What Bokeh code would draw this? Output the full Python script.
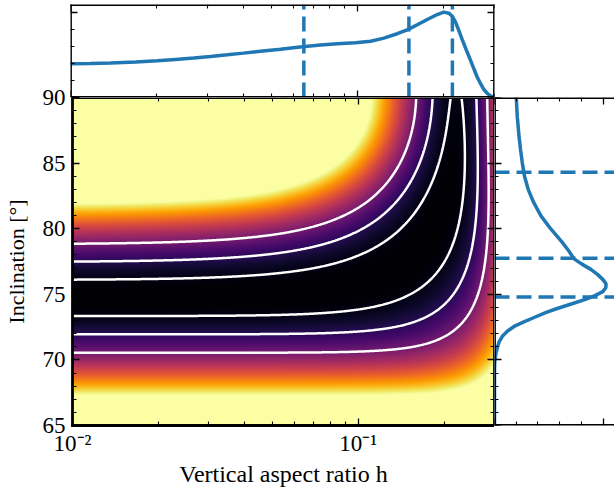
import numpy as np
from bokeh.plotting import figure
from bokeh.models import FixedTicker, Range1d, LinearColorMapper, LinearAxis, LogAxis
from bokeh.layouts import column, row
from bokeh.palettes import Inferno256
from bokeh.embed import file_html
from bokeh.resources import INLINE

# ---------------- values ----------------
h_limits = [0.01, 0.3]
incl_limits = [65.0, 90.0]
h_major_ticks = [0.01, 0.1]
h_minor_ticks = [0.02, 0.03, 0.04, 0.05, 0.06, 0.07, 0.08, 0.09, 0.2, 0.3]
h_tick_labels = ["10\u207b\u00b2", "10\u207b\u00b9"]
incl_major_ticks = [65, 70, 75, 80, 85, 90]
incl_minor_ticks = list(range(65, 91))
incl_tick_labels = ["65", "70", "75", "80", "85", "90"]

# top marginal: distribution of h
top_h = [0.01000, 0.01174, 0.01379, 0.01685, 0.02005, 0.02323, 0.02689, 0.03074,
         0.03516, 0.04006, 0.04592, 0.05391, 0.06418, 0.07431, 0.08498, 0.09841,
         0.1110, 0.1235, 0.1375, 0.1490, 0.1615, 0.1749, 0.1895, 0.1998, 0.2080,
         0.2138, 0.2195, 0.2254, 0.2316, 0.2411, 0.2476, 0.2542, 0.2613, 0.2683,
         0.2755, 0.2831, 0.2907, 0.3000]
top_density = [1.98, 2.00, 2.03, 2.09, 2.16, 2.24, 2.32, 2.41,
               2.51, 2.61, 2.72, 2.84, 2.99, 3.09, 3.16, 3.22,
               3.31, 3.49, 3.75, 3.98, 4.28, 4.59, 4.88, 5.02, 4.96,
               4.78, 4.43, 3.94, 3.41, 2.66, 2.18, 1.69, 1.19, 0.81,
               0.47, 0.24, 0.10, 0.02]
top_density_limits = [0.0, 5.47]
top_ticks_major = [0, 5]
top_ticks_minor = [1, 2, 3, 4]
h_quantiles = [0.065, 0.151, 0.214]

# right marginal: distribution of inclination
right_incl = [90.0, 88.5, 87.0, 86.0, 85.0, 84.0, 83.0, 82.0, 81.0, 80.0, 79.0, 78.3,
              77.7, 77.3, 76.9, 76.5, 76.1, 75.8, 75.5, 75.2, 74.9, 74.6, 74.3, 73.9,
              73.6, 73.25, 72.9, 72.6, 72.2, 71.8, 71.4, 71.0, 70.6, 70.2, 69.8, 69.0, 65.0]
right_density = [1.00, 1.05, 1.13, 1.20, 1.28, 1.38, 1.55, 1.80, 2.13, 2.58, 3.10, 3.42,
                 3.66, 4.02, 4.43, 4.75, 5.00, 5.13, 5.12, 4.98, 4.62, 4.15, 3.60, 2.85,
                 2.35, 1.85, 1.35, 0.95, 0.60, 0.36, 0.22, 0.14, 0.08, 0.04, 0.01, 0.0, 0.0]
right_density_limits = [0.0, 5.52]
right_ticks_major = [0, 5]
right_ticks_minor = [1, 2, 3, 4]
incl_quantiles = [84.3, 77.75, 74.8]

# chi2 map, shaped after the contour positions
q_valley = 0.2635        # apparent axis ratio at the valley floor (small h)
q_sigma = 0.0232         # 1-sigma width of that ratio
h_to_q, h_power = 1.028, 0.9
shape_base, shape_slope, shape_knee, shape_soft = 2.0, 23.0, 0.245, 0.01
edge_on_floor, floor_start = 0.8, 77.0
chi2_levels = [1.0, 4.0, 9.0]
chi2_colour_max = 28.0

FONT = "Liberation Serif"
BLUE = "#1f77b4"
AX_W = 2.8
OVERLAP = 14

# ---------------- field ----------------
nx, ny = 425, 329
hh = np.logspace(np.log10(h_limits[0]), np.log10(h_limits[1]), nx)
ii = np.linspace(incl_limits[0], incl_limits[1], ny)
H, I = np.meshgrid(hh, ii)
C = np.abs(np.cos(np.radians(I)))
S = h_to_q * H ** h_power * np.sin(np.radians(I))


def sharp(q):
    return shape_base + shape_slope * shape_soft * np.logaddexp(0.0, (q - shape_knee) / shape_soft)


lo = np.maximum(C, S)
hi = C + S
for _ in range(60):
    mid = 0.5 * (lo + hi)
    n = sharp(mid)
    M = (C ** n + S ** n) ** (1.0 / n)
    up = M > mid
    lo = np.where(up, mid, lo)
    hi = np.where(up, hi, mid)
Q = 0.5 * (lo + hi)
k = (Q - q_valley) / q_sigma
t = np.clip((I - floor_start) / (incl_limits[1] - floor_start), 0, 1)
F = k ** 2 + edge_on_floor * t ** 2


def ticks(ax, major, minor, labels=False, loc=None, tick_len=(7, 4)):
    ax.ticker = FixedTicker(ticks=major, minor_ticks=minor)
    ax.major_tick_in = tick_len[0]
    ax.major_tick_out = 0
    ax.minor_tick_in = tick_len[1]
    ax.minor_tick_out = 0
    ax.major_tick_line_width = 1.3
    ax.minor_tick_line_width = 1.1
    ax.major_tick_line_color = "black"
    ax.minor_tick_line_color = "black"
    ax.axis_line_color = "black"
    ax.axis_line_width = AX_W
    ax.axis_line_cap = "square"
    if loc is not None:
        ax.fixed_location = loc
    if not labels:
        ax.major_label_overrides = {m: "" for m in major}
        ax.major_label_text_color = None
    else:
        ax.major_label_text_font = FONT
        ax.major_label_text_font_size = "23px"
        ax.major_label_text_color = "black"


def base(fig, transparent=False):
    fig.xgrid.visible = False
    fig.ygrid.visible = False
    fig.outline_line_color = None
    fig.background_fill_color = "white"
    fig.border_fill_color = None if transparent else "white"


# ---------------- top panel ----------------
top = figure(width=496, height=97, x_axis_type="log",
             x_range=Range1d(*h_limits), y_range=Range1d(*top_density_limits),
             output_backend="svg", toolbar_location=None,
             min_border_left=70, min_border_right=2, min_border_top=4, min_border_bottom=0)
base(top)
top.line(top_h, top_density, line_color=BLUE, line_width=3.5)
for q in h_quantiles:
    top.line([q, q], top_density_limits, line_color=BLUE, line_width=3.5, line_dash="15 7")
ticks(top.xaxis[0], h_major_ticks, h_minor_ticks, loc=top_density_limits[0])
ticks(top.yaxis[0], top_ticks_major, top_ticks_minor, loc=h_limits[0])
t_above = LogAxis()
ticks(t_above, h_major_ticks, h_minor_ticks, loc=top_density_limits[1])
top.add_layout(t_above, "above")
t_right = LinearAxis()
ticks(t_right, top_ticks_major, top_ticks_minor, loc=h_limits[1])
top.add_layout(t_right, "right")

# ---------------- main panel ----------------
main = figure(width=494, height=393 + OVERLAP, x_axis_type="log",
              x_range=top.x_range, y_range=Range1d(*incl_limits),
              output_backend="svg", toolbar_location=None,
              min_border_left=70, min_border_right=0, min_border_top=OVERLAP, min_border_bottom=65)
base(main, transparent=True)
cmap = LinearColorMapper(palette=Inferno256, low=0, high=chi2_colour_max)
main.image(image=[F], x=h_limits[0], y=incl_limits[0],
           dw=h_limits[1] - h_limits[0], dh=incl_limits[1] - incl_limits[0], color_mapper=cmap)
main.contour(x=hh, y=ii, z=F, levels=chi2_levels, line_color="white", line_width=2.5)

xa = main.xaxis[0]
ticks(xa, h_major_ticks, h_minor_ticks, labels=True)
xa.major_label_overrides = dict(zip(h_major_ticks, h_tick_labels))
xa.major_label_standoff = 5
xa.axis_label = "Vertical aspect ratio h"
xa.axis_label_text_font = FONT
xa.axis_label_text_font_size = "24px"
xa.axis_label_text_font_style = "normal"
xa.axis_label_text_color = "black"
xa.axis_label_standoff = 2

ya = main.yaxis[0]
ticks(ya, incl_major_ticks, incl_minor_ticks, labels=True)
ya.major_label_overrides = dict(zip(incl_major_ticks, incl_tick_labels))
ya.major_label_standoff = 7
ya.axis_label = "Inclination [\u00b0]"
ya.axis_label_text_font = FONT
ya.axis_label_text_font_size = "22px"
ya.axis_label_text_font_style = "normal"
ya.axis_label_text_color = "black"
ya.axis_label_standoff = 11

ax_top = LogAxis()
ticks(ax_top, h_major_ticks, h_minor_ticks, loc=incl_limits[1])
main.add_layout(ax_top, "above")
ax_right = LinearAxis()
ticks(ax_right, incl_major_ticks, incl_minor_ticks, loc=h_limits[1])
main.add_layout(ax_right, "right")

# ---------------- right panel ----------------
side = figure(width=120, height=393 + OVERLAP,
              x_range=Range1d(*right_density_limits), y_range=main.y_range,
              output_backend="svg", toolbar_location=None,
              min_border_left=0, min_border_right=0, min_border_top=OVERLAP, min_border_bottom=65)
base(side, transparent=True)
side.line(right_density, right_incl, line_color=BLUE, line_width=3.5)
for q in incl_quantiles:
    side.line(right_density_limits, [q, q], line_color=BLUE, line_width=3.5, line_dash="15 7")
ticks(side.xaxis[0], right_ticks_major, right_ticks_minor, loc=incl_limits[0])
ticks(side.yaxis[0], incl_major_ticks, incl_minor_ticks, loc=right_density_limits[0])
s_above = LinearAxis()
ticks(s_above, right_ticks_major, right_ticks_minor, loc=incl_limits[1])
side.add_layout(s_above, "above")

layout = column(top, row(main, side, margin=(-OVERLAP, 0, 0, 0)))

open("out.html", "w").write(file_html(layout, INLINE))
